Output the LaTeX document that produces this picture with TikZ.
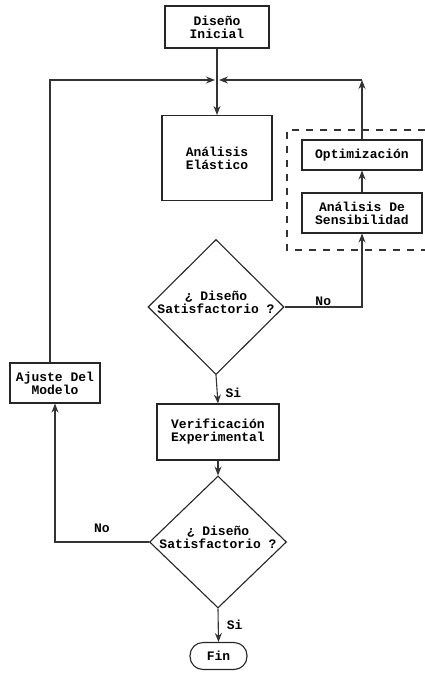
\documentclass[tikz,border=0pt]{standalone}
\usepackage{fontspec}
\setmainfont{Liberation Mono}
\usetikzlibrary{shapes.geometric,arrows.meta}
\begin{document}
\begin{tikzpicture}[x=1pt,y=-1pt,
  every node/.style={font=\fontsize{13}{13}\selectfont\bfseries, align=center, inner sep=0pt},
  box/.style={draw=black!85, line width=1.1pt},
  dec/.style={draw=black!85, line width=1.1pt, shape=diamond, aspect=1},
  term/.style={draw=black!85, line width=1.1pt, rounded corners=13pt},
  line/.style={draw=black!80, line width=1.1pt},
  arr/.style={line, -{Stealth[length=9pt,width=7pt,inset=3pt]}},
  lbl/.style={inner sep=2pt}
]
\useasboundingbox (0,0) rectangle (425,673);
\fill[white] (0,0) rectangle (425,673);

\node[box, minimum width=104pt, minimum height=42pt] (ini) at (217,27) {Diseño\\Inicial};
\coordinate (m) at (217,80);
\node[box, minimum width=110pt, minimum height=85pt] (ela) at (217,158) {Análisis\\Elástico};
\node[dec, minimum width=136pt, minimum height=135pt] (d1) at (216,307)
  {\smash{\makebox[0pt]{\begin{tabular}{@{}c@{}}¿ Diseño\\Satisfactorio ?\end{tabular}}}};
\node[box, minimum width=120pt, minimum height=30pt] (opt) at (362,155) {Optimización};
\node[box, minimum width=120pt, minimum height=40pt] (sen) at (362,213) {Análisis De\\Sensibilidad};
\coordinate (c1) at (362,80);
\node[box, minimum width=122pt, minimum height=56pt] (ver) at (218,432) {Verificación\\Experimental};
\node[dec, minimum width=137pt, minimum height=132pt] (d2) at (218,542)
  {\smash{\makebox[0pt]{\begin{tabular}{@{}c@{}}¿ Diseño\\Satisfactorio ?\end{tabular}}}};
\node[term, minimum width=57pt, minimum height=27pt] (fin) at (218.5,656) {Fin};
\node[box, minimum width=90pt, minimum height=40pt] (aju) at (55,383) {Ajuste Del\\Modelo};
\coordinate (cl) at (50,80);

% dashed group
\draw[draw=black!80, line width=1.1pt, dash pattern=on 7pt off 7pt]
  (425,130) -- (287,130) -- (287,250) -- (425,250);

% connectors
\draw[arr] (ini.south) -- (ela.north);
\draw[arr, shorten >=2pt] (aju.north -| cl) -- (cl) -- (m);
\draw[arr] (d1.east) -| node[pos=0.25, above, lbl, yshift=-1pt] {No} (sen.south);
\draw[arr] (sen.north) -- (opt.south);
\draw[arr] (opt.north) -- (c1);
\draw[arr, shorten >=2pt] (c1) -- (m);
\draw[arr] (d1.south) -- node[right, lbl, xshift=6pt, yshift=-4pt] {Si} (ver.north);
\draw[arr] (ver.south) -- (d2.north);
\draw[arr] (d2.west) -| node[pos=0.25, above, lbl, yshift=7pt] {No} (aju.south);
\draw[arr] (d2.south) -- node[right, lbl, xshift=6pt] {Si} (fin.north);
\end{tikzpicture}
\end{document}
